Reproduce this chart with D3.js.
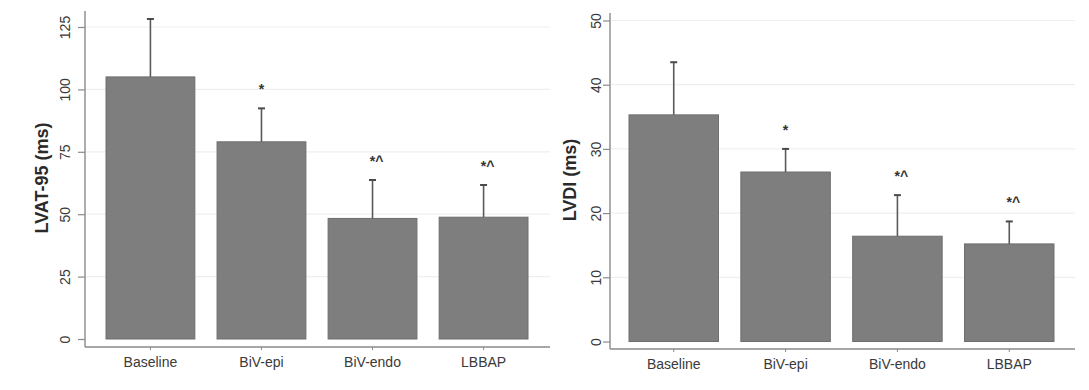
<!DOCTYPE html>
<html>
<head>
<meta charset="utf-8">
<script src="https://cdn.jsdelivr.net/npm/d3@7/dist/d3.min.js"></script>
<style>
  html, body { margin: 0; padding: 0; background: #fff; }
  svg { display: block; font-family: "Liberation Sans", Arial, sans-serif; }
</style>
</head>
<body>
<svg id="chart" width="1089" height="390"></svg>
<script>
// Pacing groups shared by both panels
const categories = ["Baseline", "BiV-epi", "BiV-endo", "LBBAP"];

// LVAT-95 (ms): mean and upper end of error bar
const lvatMean  = [105.0, 79.0, 48.3, 48.8];
const lvatUpper = [128.2, 92.4, 63.7, 61.7];
const lvatTicks = [0, 25, 50, 75, 100, 125];

// LVDI (ms): mean and upper end of error bar
const lvdiMean  = [35.3, 26.4, 16.4, 15.2];
const lvdiUpper = [43.5, 30.0, 22.8, 18.7];
const lvdiTicks = [0, 10, 20, 30, 40, 50];

// Significance markers above each bar
const markers = ["", "*", "*^", "*^"];

const svg = d3.select("#chart");

function drawPanel(opt) {
  const g = svg.append("g");
  const y = d3.scaleLinear().domain(opt.domain).range([opt.y0, opt.yTop]);
  const x = d3.scaleBand().domain(categories)
    .range([opt.barLeft, opt.barRight]).paddingInner(0.2).paddingOuter(0);

  // light horizontal grid lines
  g.selectAll("line.grid").data(opt.ticks.filter(t => t > 0)).join("line")
    .attr("class", "grid")
    .attr("x1", opt.axisX + 1).attr("x2", opt.axisRight)
    .attr("y1", d => y(d)).attr("y2", d => y(d))
    .attr("stroke", "#efefef").attr("stroke-width", 1.2);

  // bars
  g.selectAll("rect.bar").data(opt.mean).join("rect")
    .attr("class", "bar")
    .attr("x", (d, i) => x(categories[i]))
    .attr("width", x.bandwidth())
    .attr("y", d => y(d))
    .attr("height", d => y(0) - y(d))
    .attr("fill", "#7e7e7e")
    .attr("stroke", "#6e6e6e").attr("stroke-width", 1);

  // error bars (upper half only)
  const cx = i => x(categories[i]) + x.bandwidth() / 2;
  g.selectAll("line.err").data(opt.upper).join("line")
    .attr("class", "err")
    .attr("x1", (d, i) => cx(i)).attr("x2", (d, i) => cx(i))
    .attr("y1", (d, i) => y(opt.mean[i])).attr("y2", d => y(d))
    .attr("stroke", "#5a5a5a").attr("stroke-width", 1.6);
  g.selectAll("line.cap").data(opt.upper).join("line")
    .attr("class", "cap")
    .attr("x1", (d, i) => cx(i) - 3.5).attr("x2", (d, i) => cx(i) + 3.5)
    .attr("y1", d => y(d)).attr("y2", d => y(d))
    .attr("stroke", "#4a4a4a").attr("stroke-width", 2);

  // significance markers
  g.selectAll("text.mark").data(opt.upper).join("text")
    .attr("class", "mark")
    .attr("x", (d, i) => cx(i) + (markers[i].length > 1 ? 4 : 0))
    .attr("y", d => y(d) - 14)
    .attr("text-anchor", "middle")
    .attr("font-size", 14).attr("font-weight", "bold")
    .attr("fill", "#333")
    .text((d, i) => markers[i]);

  // y axis
  const yAxis = d3.axisLeft(y).tickValues(opt.ticks).tickSize(7).tickPadding(5);
  const ya = g.append("g").attr("transform", `translate(${opt.axisX},0)`).call(yAxis);
  ya.select(".domain").remove();
  ya.selectAll(".tick line").attr("stroke", "#8a8a8a").attr("stroke-width", 1.2);
  ya.selectAll(".tick text")
    .attr("fill", "#3a3a3a").attr("font-size", 14)
    .attr("transform", "rotate(-90)")
    .attr("x", 0).attr("y", -opt.labelOffset)
    .attr("dy", "0.35em")
    .attr("text-anchor", "middle");
  g.append("line")
    .attr("x1", opt.axisX).attr("x2", opt.axisX)
    .attr("y1", opt.axisTop).attr("y2", opt.axisY)
    .attr("stroke", "#8a8a8a").attr("stroke-width", 1.4);

  // x axis
  g.append("line")
    .attr("x1", opt.axisX).attr("x2", opt.axisRight)
    .attr("y1", opt.axisY).attr("y2", opt.axisY)
    .attr("stroke", "#8a8a8a").attr("stroke-width", 1.4);
  const xAxis = d3.axisBottom(x).tickSize(3).tickPadding(7);
  const xa = g.append("g").attr("transform", `translate(0,${opt.axisY})`).call(xAxis);
  xa.select(".domain").remove();
  xa.selectAll(".tick line").attr("stroke", "#8a8a8a");
  xa.selectAll(".tick text").attr("fill", "#3a3a3a").attr("font-size", 14);

  // y axis title
  g.append("text")
    .attr("transform", `translate(${opt.titleX},${opt.titleY}) rotate(-90)`)
    .attr("text-anchor", "middle")
    .attr("dy", "0.35em")
    .attr("font-size", 18).attr("font-weight", "bold")
    .attr("fill", "#2a2a2a")
    .text(opt.title);
}

drawPanel({
  mean: lvatMean, upper: lvatUpper, ticks: lvatTicks, domain: [0, 125],
  y0: 339, yTop: 27, axisX: 85, axisTop: 11, axisY: 347, axisRight: 550,
  barLeft: 106, barRight: 528, labelOffset: 20,
  titleX: 42, titleY: 178, title: "LVAT-95 (ms)"
});

drawPanel({
  mean: lvdiMean, upper: lvdiUpper, ticks: lvdiTicks, domain: [0, 50],
  y0: 341.5, yTop: 20.5, axisX: 610, axisTop: 13, axisY: 349, axisRight: 1075,
  barLeft: 629, barRight: 1054, labelOffset: 14,
  titleX: 570, titleY: 180, title: "LVDI (ms)"
});
</script>
</body>
</html>
